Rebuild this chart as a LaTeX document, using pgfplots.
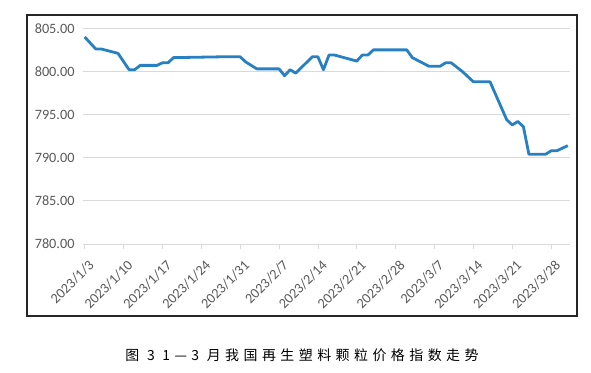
\documentclass[border=0pt]{standalone}
\usepackage{fontspec}
\setmainfont{Carlito}
\newfontfamily\cjk[LetterSpace=32]{Noto Sans CJK SC}
\usepackage{pgfplots}
\pgfplotsset{compat=1.18}
\definecolor{linecol}{RGB}{38,128,194}
\definecolor{ticklab}{RGB}{89,89,89}
\definecolor{gridc}{RGB}{217,217,217}
\begin{document}
\begin{tikzpicture}[x=1bp,y=1bp]
\path[use as bounding box] (0,0) rectangle (591,372);
\draw[line width=1.3bp, black!85] (27,56) rectangle (577,357);
\begin{axis}[
  at={(83bp,128bp)}, anchor=south west,
  scale only axis, width=487bp, height=215.7bp,
  xmin=-0.3, xmax=87.4, ymin=780, ymax=805,
  ytick={780,785,...,805},
  /pgf/number format/assume math mode=true,
  yticklabel style={/pgf/number format/.cd, fixed, fixed zerofill, precision=2, 1000 sep={}, /tikz/.cd, font=\fontsize{14.3}{16}\selectfont, text=ticklab},
  ymajorgrids, grid style={gridc, line width=0.8bp},
  separate axis lines,
  axis x line*=bottom, axis y line*=left,
  x axis line style={gridc, line width=0.8bp, -},
  y axis line style={draw=none},
  ytick style={draw=none},
  xtick style={gridc, line width=0.8bp},
  tick align=outside, major tick length=5bp,
  xtick={0,7,...,84},
  xticklabels={2023/1/3,2023/1/10,2023/1/17,2023/1/24,2023/1/31,2023/2/7,2023/2/14,2023/2/21,2023/2/28,2023/3/7,2023/3/14,2023/3/21,2023/3/28},
  xticklabel style={xshift=3bp, yshift=-5bp, rotate=45, anchor=north east, font=\fontsize{14.3}{16}\selectfont, text=ticklab},
]
\addplot[linecol, line width=2.8bp, line join=round] coordinates {
(0,804.0) (2,802.6) (3,802.6) (6,802.1) (8,800.2) (9,800.2) (10,800.7) (13,800.7)
(14,801.0) (15,801.0) (16,801.6) (25,801.7) (28,801.7) (29,801.1) (31,800.3) (35,800.3)
(36,799.5) (37,800.2) (38,799.8) (41,801.7) (42,801.7) (43,800.2) (44,801.9) (45,801.9)
(49,801.2) (50,801.9) (51,801.9) (52,802.5) (58,802.5) (59,801.6) (62,800.6) (64,800.6)
(65,801.0) (66,801.0) (68,800.0) (70,798.8) (73,798.8) (76,794.4) (77,793.8) (78,794.2)
(79,793.6) (80,790.4) (83,790.4) (84,790.8) (85,790.8) (87,791.4)
};
\end{axis}
\node[font=\cjk\fontsize{14}{16}\selectfont] at (302,17) {图 3 1—3 月我国再生塑料颗粒价格指数走势};
\end{tikzpicture}
\end{document}
